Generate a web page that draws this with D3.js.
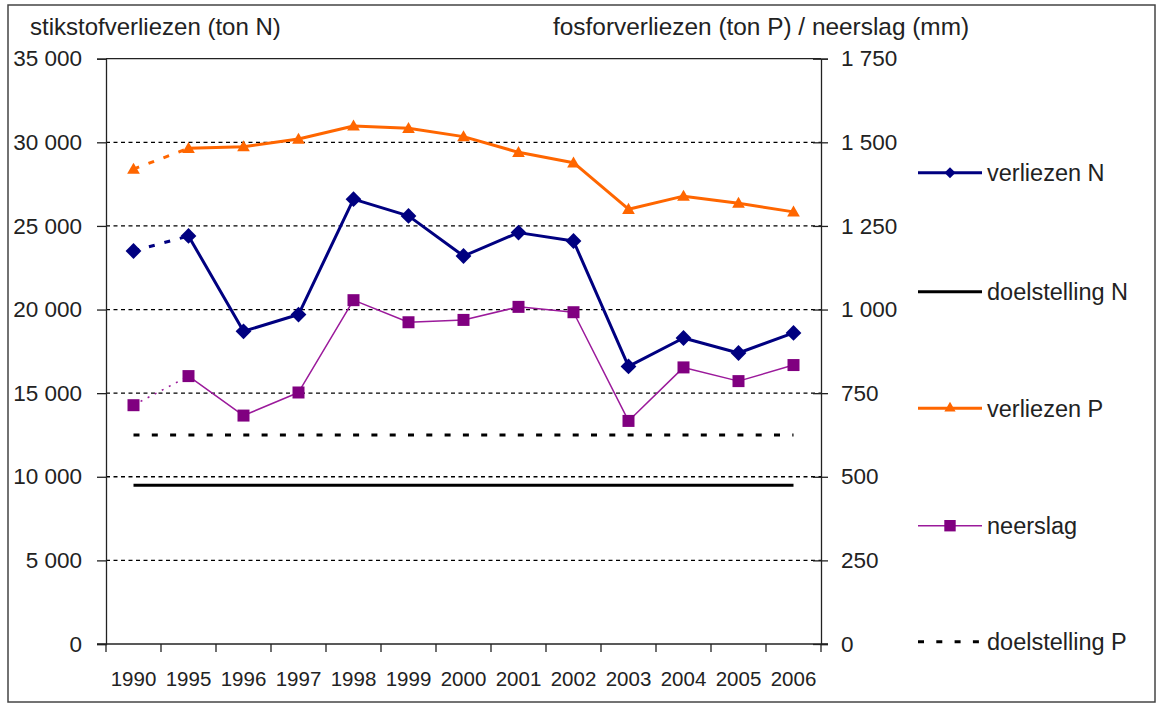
<!DOCTYPE html>
<html><head><meta charset="utf-8">
<script src="https://cdn.jsdelivr.net/npm/d3@7"></script>
<style>body{margin:0;background:#fff}svg{display:block}text{font-family:"Liberation Sans",Arial,sans-serif;fill:#222}</style>
</head><body>
<script>
const years = ["1990","1995","1996","1997","1998","1999","2000","2001","2002","2003","2004","2005","2006"];
const verliezenN = [23500, 24400, 18700, 19700, 26600, 25600, 23200, 24600, 24100, 16600, 18300, 17400, 18600];
const verliezenP = [1420, 1482, 1487, 1510, 1549, 1542, 1517, 1470, 1439, 1300, 1339, 1318, 1292];
const neerslag = [714, 801, 683, 752, 1028, 962, 969, 1008, 992, 667, 827, 786, 834];
const doelstellingN = 9500;
const doelstellingP = 625;
const leftTicks = [0,5000,10000,15000,20000,25000,30000,35000];
const rightTicks = [0,250,500,750,1000,1250,1500,1750];
const legendLabels = ["verliezen N","doelstelling N","verliezen P","neerslag","doelstelling P"];

const W=1160,H=707;
const L=106,R=821,T=58.7,B=644;
const svg=d3.select("body").append("svg").attr("width",W).attr("height",H);
const loc=d3.formatLocale({decimal:",",thousands:" ",grouping:[3],currency:["",""]});
const fmt=loc.format(",");

svg.append("rect").attr("x",8).attr("y",5).attr("width",1147).attr("height",697)
  .attr("fill","none").attr("stroke","#444").attr("stroke-width",1.5);

const x=d3.scaleBand().domain(years).range([L,R]);
const cx=d=>x(d)+x.bandwidth()/2;
const yL=d3.scaleLinear().domain([0,35000]).range([B,T]);
const yR=d3.scaleLinear().domain([0,1750]).range([B,T]);

// gridlines
svg.append("g").selectAll("line").data(leftTicks.filter(v=>v>0&&v<35000)).join("line")
  .attr("x1",L).attr("x2",R).attr("y1",d=>yL(d)).attr("y2",d=>yL(d))
  .attr("stroke","#000").attr("stroke-width",1.3).attr("stroke-dasharray","4,3.5");
// top border
svg.append("line").attr("x1",L).attr("x2",R).attr("y1",yL(35000)).attr("y2",yL(35000)).attr("stroke","#222").attr("stroke-width",1.3);

// left axis
const gl=svg.append("g").attr("transform",`translate(${L},0)`)
  .call(d3.axisLeft(yL).tickValues(leftTicks).tickFormat(fmt).tickSizeOuter(0).tickSize(9).tickPadding(15));
gl.select(".domain").attr("stroke","#222").attr("stroke-width",1.3);
gl.selectAll(".tick line").attr("stroke","#222").attr("stroke-width",1.3);
gl.selectAll("text").style("font-size","22.5px").attr("fill","#222").attr("font-family","Liberation Sans, Arial");

// right axis
const gr=svg.append("g").attr("transform",`translate(${R},0)`)
  .call(d3.axisRight(yR).tickValues(rightTicks).tickFormat(fmt).tickSizeOuter(0).tickSize(7).tickPadding(13));
gr.select(".domain").attr("stroke","#222").attr("stroke-width",1.3);
gr.selectAll(".tick line").attr("stroke","#222").attr("stroke-width",1.3).attr("x1",-8);
gr.selectAll("text").style("font-size","22.5px").attr("fill","#222").attr("font-family","Liberation Sans, Arial");

// bottom axis
const bx=svg.append("g").attr("transform",`translate(0,${B})`);
bx.append("line").attr("x1",L-9).attr("x2",R+7).attr("y1",0).attr("y2",0).attr("stroke","#222").attr("stroke-width",1.3);
const edges=years.map(d=>x(d)).concat([R]);
bx.selectAll("line.t").data(edges).join("line").attr("class","t")
  .attr("x1",d=>d).attr("x2",d=>d).attr("y1",0).attr("y2",8).attr("stroke","#222").attr("stroke-width",1.3);
bx.selectAll("text").data(years).join("text")
  .attr("x",d=>cx(d)).attr("y",42).attr("text-anchor","middle").style("font-size","20.5px").text(d=>d);

// titles
svg.append("text").attr("x",30).attr("y",35).style("font-size","24px").text("stikstofverliezen (ton N)");
svg.append("text").attr("x",553).attr("y",35).style("font-size","24.4px").text("fosforverliezen (ton P) / neerslag (mm)");

// target lines
const first=years[0], last=years[years.length-1];
svg.append("line").attr("x1",cx(first)).attr("x2",cx(last)).attr("y1",yL(doelstellingN)).attr("y2",yL(doelstellingN))
  .attr("stroke","#000").attr("stroke-width",3);
svg.append("line").attr("x1",cx(first)).attr("x2",cx(last)).attr("y1",yR(doelstellingP)).attr("y2",yR(doelstellingP))
  .attr("stroke","#000").attr("stroke-width",3).attr("stroke-dasharray","6,12.3");

function series(vals,y,color,w,dash){
  const pts=years.map((d,i)=>[cx(d),y(vals[i])]);
  const ln=d3.line();
  svg.append("path").attr("d",ln(pts.slice(0,2))).attr("fill","none").attr("stroke",color).attr("stroke-width",w).attr("stroke-dasharray",dash);
  svg.append("path").attr("d",ln(pts.slice(1))).attr("fill","none").attr("stroke",color).attr("stroke-width",w).attr("stroke-linejoin","round");
  return pts;
}
const sym=(type,size)=>d3.symbol().type(type).size(size)();

// neerslag
const pN2=series(neerslag,yR,"#9b1a9b",1.5,"2,6");
svg.append("g").selectAll("path").data(pN2).join("path").attr("transform",d=>`translate(${d})`)
  .attr("d",sym(d3.symbolSquare,144)).attr("fill","#800080");
// P
const pP=series(verliezenP,yR,"#ff6600",3,"6,10");
svg.append("g").selectAll("path").data(pP).join("path").attr("transform",d=>`translate(${d[0]},${d[1]+1})`)
  .attr("d",sym(d3.symbolTriangle,70)).attr("fill","#ff6600");
// N
const pN=series(verliezenN,yL,"#000080",3,"6,10");
svg.append("g").selectAll("path").data(pN).join("path").attr("transform",d=>`translate(${d}) rotate(45)`)
  .attr("d",sym(d3.symbolSquare,125)).attr("fill","#000080");

// legend
const ly=[172.7,291.7,408.3,525.7,641.7];
const lg=svg.append("g");
const lx1=918,lx2=982,lm=950;
lg.append("line").attr("x1",lx1).attr("x2",lx2).attr("y1",ly[0]).attr("y2",ly[0]).attr("stroke","#000080").attr("stroke-width",3);
lg.append("path").attr("transform",`translate(${lm},${ly[0]}) rotate(45)`).attr("d",sym(d3.symbolSquare,60)).attr("fill","#000080");
lg.append("line").attr("x1",lx1).attr("x2",lx2).attr("y1",ly[1]).attr("y2",ly[1]).attr("stroke","#000").attr("stroke-width",3);
lg.append("line").attr("x1",lx1).attr("x2",lx2).attr("y1",ly[2]).attr("y2",ly[2]).attr("stroke","#ff6600").attr("stroke-width",3);
lg.append("path").attr("transform",`translate(${lm},${ly[2]})`).attr("d",sym(d3.symbolTriangle,55)).attr("fill","#ff6600");
lg.append("line").attr("x1",lx1).attr("x2",lx2).attr("y1",ly[3]).attr("y2",ly[3]).attr("stroke","#9b1a9b").attr("stroke-width",1.5);
lg.append("path").attr("transform",`translate(${lm},${ly[3]})`).attr("d",sym(d3.symbolSquare,130)).attr("fill","#800080");
lg.append("line").attr("x1",lx1).attr("x2",lx2).attr("y1",ly[4]).attr("y2",ly[4]).attr("stroke","#000").attr("stroke-width",3).attr("stroke-dasharray","6,12.3");
lg.selectAll("text").data(legendLabels).join("text").attr("x",987).attr("y",(d,i)=>ly[i]).attr("dy","0.36em")
  .style("font-size","23.5px").text(d=>d);
</script>
</body></html>
